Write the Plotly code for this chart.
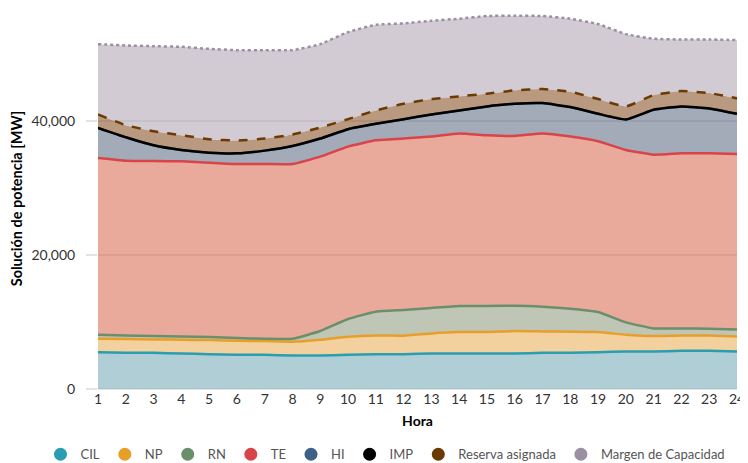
import plotly.graph_objects as go

horas = list(range(1, 25))

# generacion por tecnologia [MW]
cil = [5500, 5400, 5400, 5300, 5200, 5100, 5100, 5000, 5000, 5100, 5200, 5200,
       5300, 5300, 5300, 5300, 5400, 5400, 5500, 5600, 5600, 5700, 5700, 5600]
np_ = [2000, 2050, 2000, 2050, 2100, 2100, 2050, 2060, 2360, 2700, 2800, 2760,
       3000, 3200, 3200, 3360, 3200, 3150, 3000, 2500, 2300, 2300, 2300, 2250]
rn = [600, 550, 500, 500, 450, 400, 350, 440, 1300, 2650, 3550, 3840,
      3800, 3900, 3900, 3790, 3700, 3450, 3000, 1850, 1150, 1050, 1000, 1050]
te = [26400, 26100, 26150, 26150, 26050, 26000, 26100, 26100, 26040, 25750, 25600, 25600,
      25600, 25750, 25500, 25350, 25850, 25700, 25500, 25750, 25950, 26150, 26200, 26200]
hi = [4500, 3500, 2350, 1700, 1500, 1600, 2000, 2700, 2700, 2600, 2450, 2900,
      3300, 3450, 4300, 4800, 4550, 4400, 4100, 4550, 6700, 7000, 6700, 6000]
imp = [0, 0, 0, 0, 0, 0, 0, 0, 0, 0, 0, 0,
       0, 0, 0, 0, 0, 0, 0, 0, 0, 0, 0, 0]
reserva = [2000, 1800, 2100, 2200, 2000, 1900, 1800, 1700, 1650, 1500, 2000, 2300,
           2300, 2100, 1900, 2000, 2100, 2300, 2200, 1950, 2200, 2300, 2300, 2300]
margen = [10500, 11900, 12700, 13200, 13500, 13500, 13200, 12600, 12450, 13000, 12800, 12000,
          11700, 11600, 11600, 11150, 10900, 10900, 11200, 10800, 8400, 7700, 8000, 8700]

series = [
    ("CIL", cil, "#2a9db0", "rgba(123,173,187,0.6)", "solid"),
    ("NP", np_, "#e89f2a", "rgba(235,178,95,0.6)", "solid"),
    ("RN", rn, "#6a8f6a", "rgba(148,160,133,0.6)", "solid"),
    ("TE", te, "#d9434a", "rgba(218,113,88,0.6)", "solid"),
    ("HI", hi, "#3f6185", "rgba(102,113,137,0.6)", "solid"),
    ("IMP", imp, "#000000", "rgba(102,113,137,0.6)", "solid"),
    ("Reserva asignada", reserva, "#6b3a00", "rgba(138,87,43,0.6)", "dash"),
    ("Margen de Capacidad", margen, "#9b8fa3", "rgba(182,168,182,0.6)", "dot"),
]

fig = go.Figure()

for name, vals, color, fill, dash in series:
    fig.add_trace(go.Scatter(
        x=horas,
        y=vals,
        name=name,
        stackgroup="gen",
        mode="lines",
        line=dict(color=color, width=2.5, dash=dash, shape="spline", smoothing=0.4),
        fillcolor=fill,
        showlegend=False
    ))

# legend with round markers
for name, vals, color, fill, dash in series:
    fig.add_trace(go.Scatter(
        x=[None],
        y=[None],
        name=name,
        mode="markers",
        marker=dict(color=color, size=13, symbol="circle")
    ))

font = "Segoe UI, Lato, Noto Sans, sans-serif"

# the page adds an 8px body margin, so the figure is 740x455
fig.update_layout(
    width=740,
    height=455,
    margin=dict(l=90, r=11, t=0, b=74, autoexpand=False),
    plot_bgcolor="white",
    paper_bgcolor="white",
    font=dict(family=font, size=14, color="#333333"),
    xaxis=dict(
        title=dict(text="<b>Hora</b>", font=dict(size=14, color="#000000"), standoff=10),
        range=[1, 24],
        tickvals=horas,
        showgrid=False,
        zeroline=False,
        showline=False,
        ticks="",
        ticklabeloverflow="allow",
    ),
    yaxis=dict(
        title=dict(text="<b>Solución de potencia [MW]</b>", font=dict(size=14.5, color="#000000"), standoff=11),
        range=[0, 56900],
        tickvals=[0, 20000, 40000],
        tickformat=",",
        showgrid=True,
        gridcolor="#e3e3e3",
        gridwidth=1.5,
        zeroline=True,
        zerolinecolor="#e3e3e3",
        zerolinewidth=1.5,
        ticks="outside",
        ticklen=11,
        tickcolor="#e3e3e3",
        tickwidth=1.5,
        ticklabelstandoff=8,
    ),
    legend=dict(
        orientation="h",
        x=-0.09,
        xanchor="left",
        y=-0.132,
        yanchor="top",
        font=dict(size=13, color="#555555"),
        itemwidth=30,
        traceorder="normal",
    ),
)

fig.write_html("out.html")
